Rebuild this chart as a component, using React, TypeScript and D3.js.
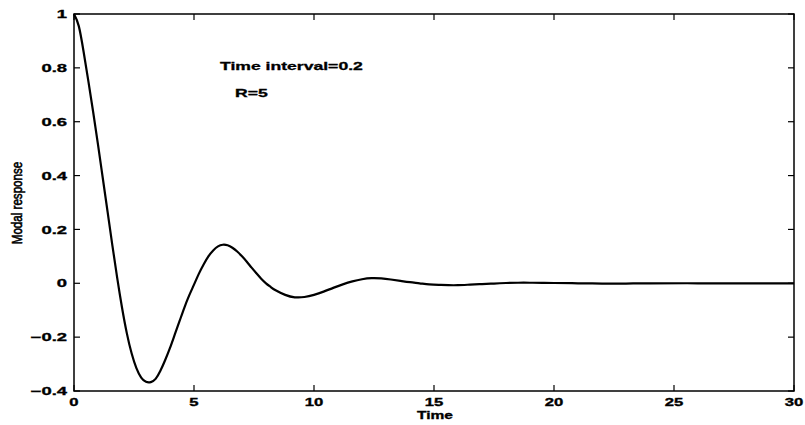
import React from "react";
import * as d3 from "d3";

const timeValues = [0, 0.2, 0.4, 0.6, 0.8, 1.0, 1.2, 1.4, 1.6, 1.8, 2.0, 2.2, 2.4, 2.6, 2.8, 3.0, 3.2, 3.4, 3.6, 3.8, 4.0, 4.2, 4.4, 4.6, 4.8, 5.0, 5.2, 5.4, 5.6, 5.8, 6.0, 6.2, 6.4, 6.6, 6.8, 7.0, 7.2, 7.4, 7.6, 7.8, 8.0, 8.2, 8.4, 8.8, 9.2, 9.6, 10.0, 10.4, 10.8, 11.2, 11.6, 12.0, 12.4, 12.8, 13.2, 13.6, 14.0, 14.4, 14.8, 15.2, 15.6, 16.0, 16.5, 17.0, 17.5, 18.0, 18.5, 19.0, 19.5, 20, 21, 22, 23, 24, 26, 28, 30];
const responseValues = [1.0, 0.955, 0.86, 0.75, 0.635, 0.515, 0.39, 0.265, 0.14, 0.02, -0.09, -0.185, -0.26, -0.315, -0.35, -0.366, -0.367, -0.355, -0.325, -0.285, -0.24, -0.19, -0.14, -0.09, -0.045, -0.005, 0.035, 0.07, 0.1, 0.122, 0.137, 0.143, 0.141, 0.132, 0.118, 0.1, 0.08, 0.058, 0.037, 0.017, 0.0, -0.014, -0.026, -0.043, -0.052, -0.051, -0.043, -0.031, -0.017, -0.004, 0.007, 0.015, 0.019, 0.018, 0.014, 0.009, 0.004, 0.0, -0.004, -0.006, -0.007, -0.007, -0.005, -0.003, -0.001, 0.001, 0.002, 0.002, 0.0015, 0.001, 0.0, -0.001, -0.001, 0.0, 0.0, 0.0, 0.0];

const xTicks = [0, 5, 10, 15, 20, 25, 30];
const yTicks = [-0.4, -0.2, 0, 0.2, 0.4, 0.6, 0.8, 1];
const yTickLabels = ["\u22120.4", "\u22120.2", "0", "0.2", "0.4", "0.6", "0.8", "1"];
const annotations = ["Time interval=0.2", "R=5"];

const W = 805, H = 425;
const L = 74, R = 794, T = 14, B = 391;

export default function App() {
  const x = d3.scaleLinear().domain([0, 30]).range([L, R]);
  const y = d3.scaleLinear().domain([-0.4, 1]).range([B, T]);
  const pts = timeValues.map((t, i) => [t, responseValues[i]] as [number, number]);
  const line = d3.line<[number, number]>().x(d => x(d[0])).y(d => y(d[1])).curve(d3.curveNatural);
  const tl = 6;
  const font = "'Liberation Sans', Arial, sans-serif";
  return (
    <svg width={W} height={H} style={{ position: "absolute", left: 0, top: 0, background: "#fff" }}>
      <rect x={0} y={0} width={W} height={H} fill="#fff" />
      <path d={line(pts) || ""} fill="none" stroke="#000" strokeWidth={2.2} strokeLinejoin="round" />
      <rect x={L} y={T} width={R - L} height={B - T} fill="none" stroke="#000" strokeWidth={1.5} />
      {xTicks.map(t => (
        <g key={"x" + t}>
          <line x1={x(t)} x2={x(t)} y1={B} y2={B - tl} stroke="#000" strokeWidth={1.2} />
          <line x1={x(t)} x2={x(t)} y1={T} y2={T + tl} stroke="#000" strokeWidth={1.2} />
          <text transform={`translate(${x(t)},${406}) scale(1.45,1)`} textAnchor="middle" fontFamily={font} fontWeight="bold" fontSize={11.5} fill="#000" stroke="#000" strokeWidth={0.35}>{t}</text>
        </g>
      ))}
      {yTicks.map((v, i) => (
        <g key={"y" + i}>
          <line x1={L} x2={L + tl} y1={y(v)} y2={y(v)} stroke="#000" strokeWidth={1.2} />
          <line x1={R} x2={R - tl} y1={y(v)} y2={y(v)} stroke="#000" strokeWidth={1.2} />
          <text transform={`translate(${67},${y(v) + 4.2}) scale(1.6,1)`} textAnchor="end" fontFamily={font} fontWeight="bold" fontSize={11.5} fill="#000" stroke="#000" strokeWidth={0.35}>{yTickLabels[i]}</text>
        </g>
      ))}
      <text transform={`translate(${435},${419}) scale(1.35,1)`} textAnchor="middle" fontFamily={font} fontWeight="bold" fontSize={11.5} fill="#000" stroke="#000" strokeWidth={0.35}>Time</text>
      <text transform={`translate(${22},${203}) rotate(-90) scale(0.8,1)`} textAnchor="middle" fontFamily={font} fontWeight="normal" fontSize={14.5} fill="#000" stroke="#000" strokeWidth={0.6}>Modal response</text>
      <text transform={`translate(${220},${70}) scale(1.6,1)`} fontFamily={font} fontWeight="bold" fontSize={11} fill="#000" stroke="#000" strokeWidth={0.3}>{annotations[0]}</text>
      <text transform={`translate(${235},${97}) scale(1.6,1)`} fontFamily={font} fontWeight="bold" fontSize={11} fill="#000" stroke="#000" strokeWidth={0.3}>{annotations[1]}</text>
    </svg>
  );
}
